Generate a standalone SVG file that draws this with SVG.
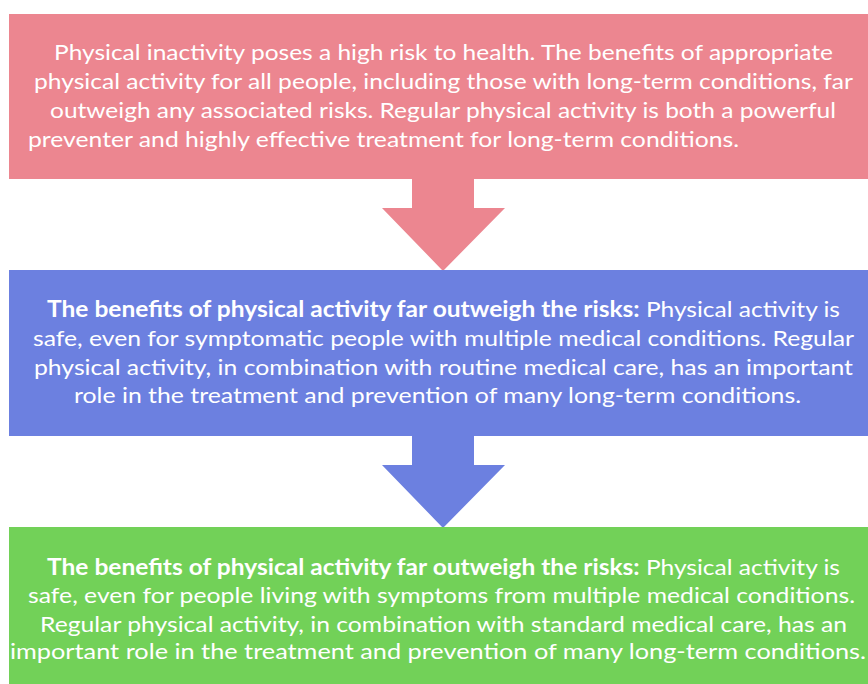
<svg xmlns="http://www.w3.org/2000/svg" width="868" height="684" viewBox="0 0 868 684">
<style>
text{font-family:Lato,"Liberation Sans",sans-serif;font-size:22px;fill:#ffffff}
.b{font-weight:bold}
</style>
<rect width="868" height="684" fill="#ffffff"/>
<g id="connectors">
<polygon id="arrow1" points="412,179 474,179 474,208 505,208 443,271 382,208 412,208" fill="#EC8690"/>
<polygon id="arrow2" points="412,436 474,436 474,465 505,465 443,528 382,465 412,465" fill="#6C80E0"/>
</g>
<g id="node1">
<rect x="9" y="14" width="859" height="165" fill="#EC8690"/>
<text x="54" y="60" textLength="779" lengthAdjust="spacingAndGlyphs">Physical inactivity poses a high risk to health. The benefits of appropriate</text>
<text x="34" y="89" textLength="819" lengthAdjust="spacingAndGlyphs">physical activity for all people, including those with long-term conditions, far</text>
<text x="50" y="118" textLength="786" lengthAdjust="spacingAndGlyphs">outweigh any associated risks. Regular physical activity is both a powerful</text>
<text x="28" y="147" textLength="711" lengthAdjust="spacingAndGlyphs">preventer and highly effective treatment for long-term conditions.</text>
</g>
<g id="node2">
<rect x="9" y="270" width="859" height="166" fill="#6C80E0"/>
<text x="47" y="317" textLength="793" lengthAdjust="spacingAndGlyphs"><tspan class="b">The benefits of physical activity far outweigh the risks:</tspan> Physical activity is</text>
<text x="33" y="346" textLength="821" lengthAdjust="spacingAndGlyphs">safe, even for symptomatic people with multiple medical conditions. Regular</text>
<text x="34" y="375" textLength="819" lengthAdjust="spacingAndGlyphs">physical activity, in combination with routine medical care, has an important</text>
<text x="74" y="403" textLength="727" lengthAdjust="spacingAndGlyphs">role in the treatment and prevention of many long-term conditions.</text>
</g>
<g id="node3">
<rect x="9" y="527" width="859" height="157" fill="#72D158"/>
<text x="47" y="575" textLength="793" lengthAdjust="spacingAndGlyphs"><tspan class="b">The benefits of physical activity far outweigh the risks:</tspan> Physical activity is</text>
<text x="28" y="603" textLength="827" lengthAdjust="spacingAndGlyphs">safe, even for people living with symptoms from multiple medical conditions.</text>
<text x="40" y="632" textLength="807" lengthAdjust="spacingAndGlyphs">Regular physical activity, in combination with standard medical care, has an</text>
<text x="10" y="659" textLength="856" lengthAdjust="spacingAndGlyphs">important role in the treatment and prevention of many long-term conditions.</text>
</g>
</svg>
